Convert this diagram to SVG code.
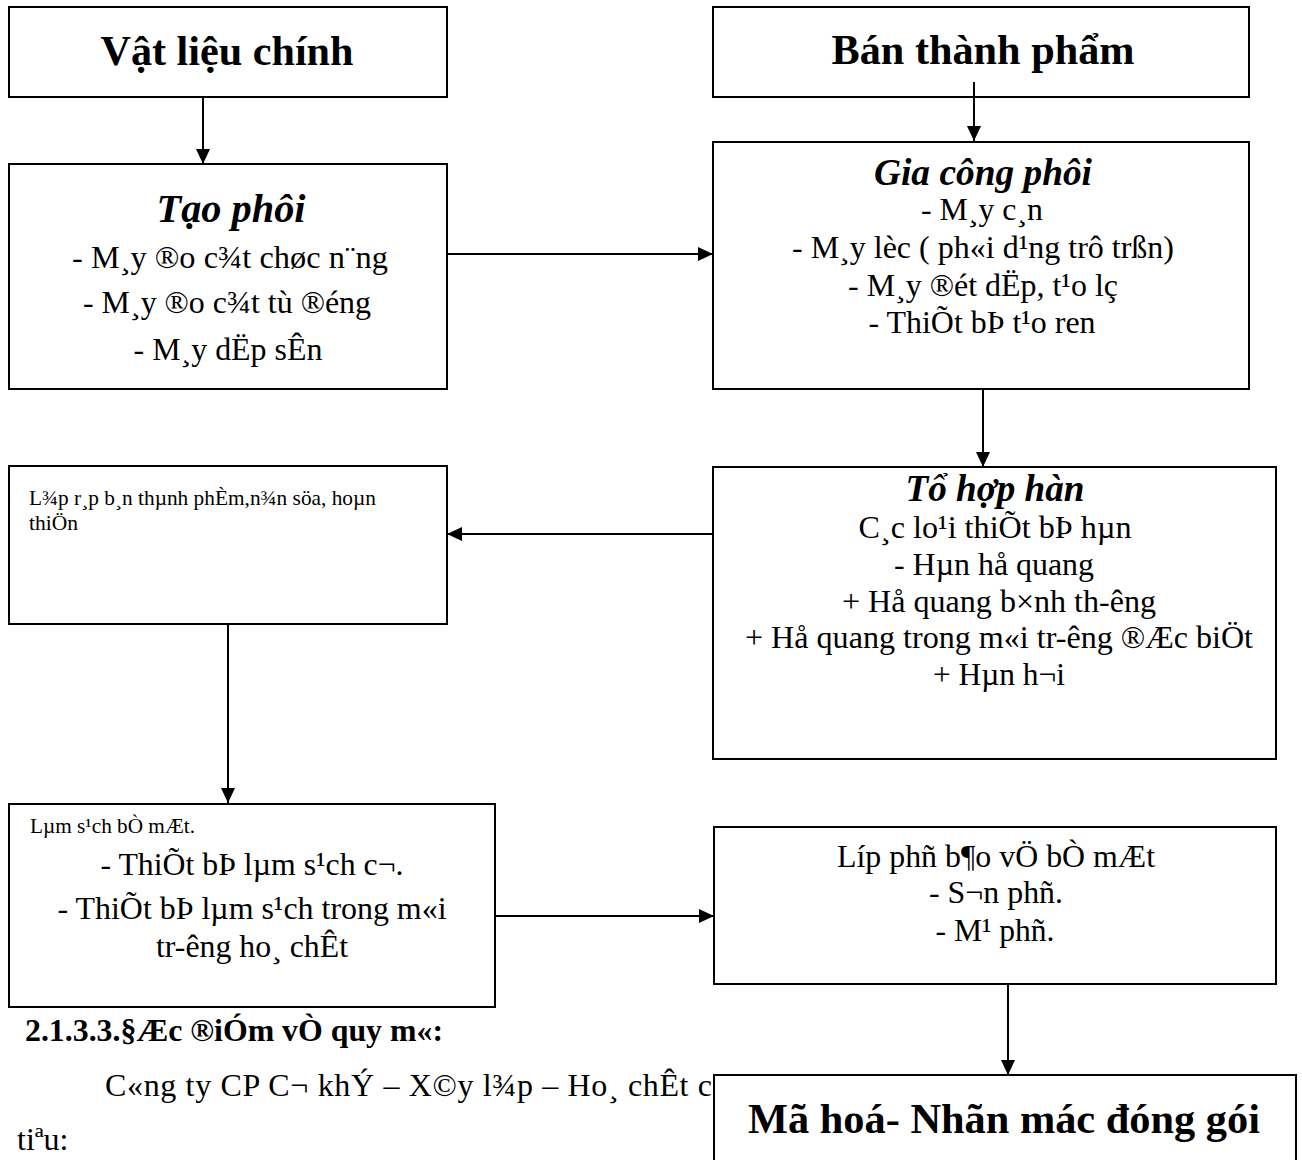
<svg xmlns="http://www.w3.org/2000/svg" width="1302" height="1160" viewBox="0 0 1302 1160">
  <style>
    .box { fill: #fff; stroke: #000; stroke-width: 2; }
    text { font-family: "Liberation Serif", "Times New Roman", serif; fill: #000; }
    .c { text-anchor: middle; }
    .h1 { font-size: 42.7px; font-weight: bold; }
    .ti { font-weight: bold; font-style: italic; }
    .b32 { font-size: 32px; }
    .s21 { font-size: 21px; }
    .edge { fill: none; stroke: #000; stroke-width: 2; }
  </style>
  <defs>
    <marker id="arrow" markerUnits="userSpaceOnUse" markerWidth="15" markerHeight="14" refX="15" refY="7" orient="auto">
      <path d="M0,0 L15,7 L0,14 z" fill="#000"/>
    </marker>
  </defs>
  <rect width="1302" height="1160" fill="#fff"/>

  <!-- running text of the page, partly covered by the last box -->
  <g id="page-text">
    <text x="25" y="1041" font-size="32" font-weight="bold" textLength="418" lengthAdjust="spacingAndGlyphs">2.1.3.3.§Æc ®iÓm vÒ quy m«:</text>
    <text x="105" y="1096" class="b32" textLength="607" lengthAdjust="spacing">C«ng ty CP C¬ khÝ – X©y l¾p – Ho¸ chÊt c</text>
    <text x="17" y="1150" class="b32">tiªu:</text>
  </g>

  <g id="vat-lieu-chinh">
    <rect class="box" x="9" y="7" width="438" height="90"/>
    <text class="c h1" x="227" y="65" textLength="253" lengthAdjust="spacingAndGlyphs">Vật liệu chính</text>
  </g>

  <g id="tao-phoi">
    <rect class="box" x="9" y="164" width="438" height="225"/>
    <text class="c ti" x="231" y="222" font-size="40" textLength="149" lengthAdjust="spacingAndGlyphs">Tạo phôi</text>
    <text class="c b32" x="230" y="268" textLength="316" lengthAdjust="spacingAndGlyphs">- M¸y ®o c¾t chøc n¨ng</text>
    <text class="c b32" x="227" y="313" textLength="288" lengthAdjust="spacingAndGlyphs">- M¸y ®o c¾t tù ®éng</text>
    <text class="c b32" x="228" y="360" textLength="189" lengthAdjust="spacingAndGlyphs">- M¸y dËp sÊn</text>
  </g>

  <g id="ban-thanh-pham">
    <rect class="box" x="713" y="7" width="536" height="90"/>
    <text class="c h1" x="983" y="64" textLength="303" lengthAdjust="spacingAndGlyphs">Bán thành phẩm</text>
  </g>

  <g id="gia-cong-phoi">
    <rect class="box" x="713" y="142" width="536" height="247"/>
    <text class="c ti" x="983" y="185" font-size="37.3" textLength="218" lengthAdjust="spacingAndGlyphs">Gia công phôi</text>
    <text class="c b32" x="982" y="220" textLength="122" lengthAdjust="spacingAndGlyphs">- M¸y c¸n</text>
    <text class="c b32" x="983" y="258" textLength="382" lengthAdjust="spacingAndGlyphs">- M¸y lèc ( ph«i d¹ng trô trßn)</text>
    <text class="c b32" x="983" y="296" textLength="270" lengthAdjust="spacingAndGlyphs">- M¸y ®ét dËp, t¹o lç</text>
    <text class="c b32" x="982" y="333" textLength="227" lengthAdjust="spacingAndGlyphs">- ThiÕt bÞ t¹o ren</text>
  </g>

  <g id="to-hop-han">
    <rect class="box" x="713" y="467" width="563" height="292"/>
    <text class="c ti" x="995" y="501" font-size="37.3" textLength="179" lengthAdjust="spacingAndGlyphs">Tổ hợp hàn</text>
    <text class="c b32" x="995" y="538" textLength="273" lengthAdjust="spacingAndGlyphs">C¸c lo¹i thiÕt bÞ hµn</text>
    <text class="c b32" x="994" y="575" textLength="200" lengthAdjust="spacingAndGlyphs">- Hµn hå quang</text>
    <text class="c b32" x="999" y="612" textLength="314" lengthAdjust="spacingAndGlyphs">+ Hå quang b×nh th-êng</text>
    <text class="c b32" x="999" y="648" textLength="508" lengthAdjust="spacingAndGlyphs">+ Hå quang trong m«i tr-êng ®Æc biÖt</text>
    <text class="c b32" x="999" y="685" textLength="132" lengthAdjust="spacingAndGlyphs">+ Hµn h¬i</text>
  </g>

  <g id="lap-rap">
    <rect class="box" x="9" y="466" width="438" height="158"/>
    <text class="s21" x="29" y="505" textLength="347" lengthAdjust="spacingAndGlyphs">L¾p r¸p b¸n thµnh phÈm,n¾n söa, hoµn</text>
    <text class="s21" x="29" y="530" textLength="49" lengthAdjust="spacingAndGlyphs">thiÖn</text>
  </g>

  <g id="lam-sach">
    <rect class="box" x="9" y="804" width="486" height="203"/>
    <text class="s21" x="30" y="833" textLength="165" lengthAdjust="spacingAndGlyphs">Lµm s¹ch bÒ mÆt.</text>
    <text class="c b32" x="252" y="875" textLength="303" lengthAdjust="spacingAndGlyphs">- ThiÕt bÞ lµm s¹ch c¬.</text>
    <text class="c b32" x="252" y="919" textLength="389" lengthAdjust="spacingAndGlyphs">- ThiÕt bÞ lµm s¹ch trong m«i</text>
    <text class="c b32" x="252" y="957" textLength="192" lengthAdjust="spacingAndGlyphs">tr-êng ho¸ chÊt</text>
  </g>

  <g id="lop-phu">
    <rect class="box" x="714" y="827" width="562" height="157"/>
    <text class="c b32" x="996" y="867" textLength="318" lengthAdjust="spacingAndGlyphs">Líp phñ b¶o vÖ bÒ mÆt</text>
    <text class="c b32" x="996" y="903" textLength="134" lengthAdjust="spacingAndGlyphs">- S¬n phñ.</text>
    <text class="c b32" x="995" y="941" textLength="119" lengthAdjust="spacingAndGlyphs">- M¹ phñ.</text>
  </g>

  <g id="ma-hoa">
    <rect class="box" x="714" y="1075" width="582" height="120"/>
    <text class="c h1" x="1004" y="1133" textLength="512" lengthAdjust="spacingAndGlyphs">Mã hoá- Nhãn mác đóng gói</text>
  </g>

  <g id="connectors">
    <line class="edge" x1="203" y1="97" x2="203" y2="164" marker-end="url(#arrow)"/>
    <line class="edge" x1="447" y1="254" x2="713" y2="254" marker-end="url(#arrow)"/>
    <line class="edge" x1="974" y1="82" x2="974" y2="141" marker-end="url(#arrow)"/>
    <line class="edge" x1="983" y1="389" x2="983" y2="467" marker-end="url(#arrow)"/>
    <line class="edge" x1="713" y1="534" x2="447" y2="534" marker-end="url(#arrow)"/>
    <line class="edge" x1="228" y1="624" x2="228" y2="803" marker-end="url(#arrow)"/>
    <line class="edge" x1="495" y1="916" x2="714" y2="916" marker-end="url(#arrow)"/>
    <line class="edge" x1="1008" y1="984" x2="1008" y2="1075" marker-end="url(#arrow)"/>
  </g>
</svg>
